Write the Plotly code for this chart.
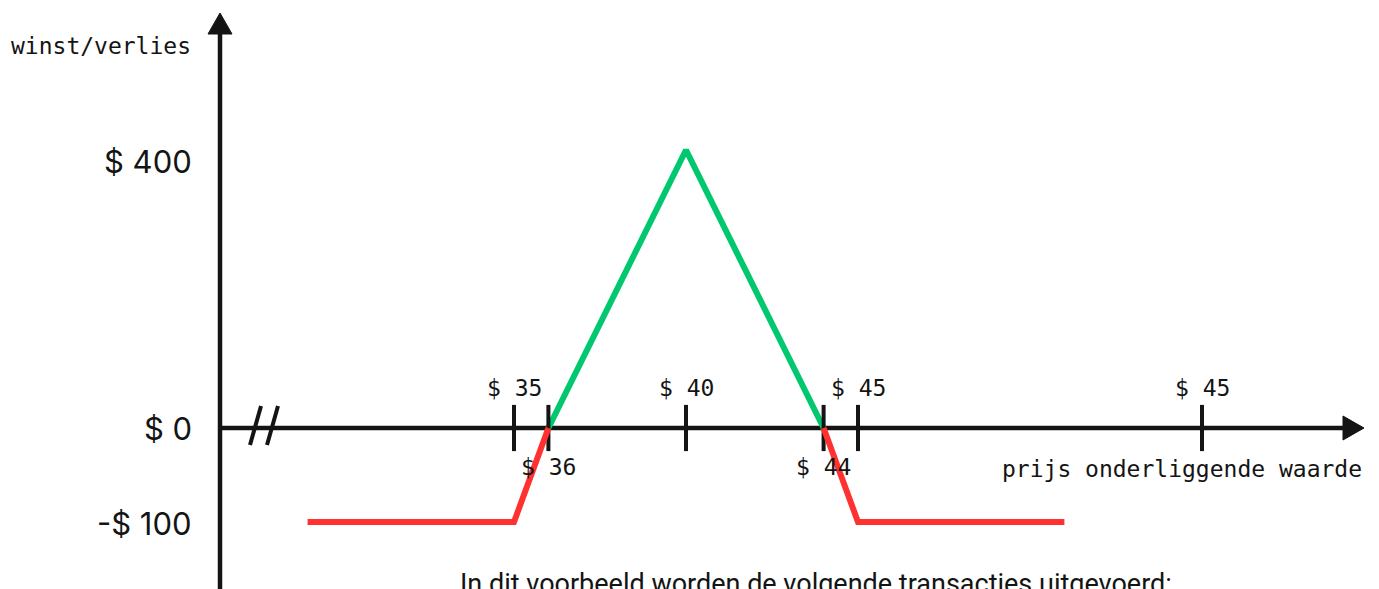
import plotly.graph_objects as go

# Butterfly spread: profit/loss at expiry against the underlying price
price = [29, 35, 36, 40, 44, 45, 51]
profit_loss = [-100, -100, 0, 400, 0, -100, -100]

tick_prices = [35, 36, 40, 44, 45, 55]
tick_labels = ["$ 35", "$ 36", "$ 40", "$ 44", "$ 45", "$ 45"]
break_even = [36, 44]

y_tick_values = [400, 0, -100]
y_tick_labels = ["$ 400", "$ 0", "-$ 100"]

W, H = 1379, 589
INK = "#141414"
RED = "#ff3131"
GREEN = "#00c86e"
MONO = "DejaVu Sans Mono"
SANS = "Inter"


def fx(px):
    return px / W


def fy(py):
    return 1 - py / H


# axis scales (schematic: loss side drawn on its own scale)
x_per_dollar = 34.4
x_lo = 40 - 686 / x_per_dollar
x_hi = x_lo + W / x_per_dollar
zero_py = 428
gain_scale = 278 / 400
loss_scale = 94 / 100

fig = go.Figure()

# profit (green) and loss (red) pieces of the payoff line
fig.add_trace(go.Scatter(x=price[0:3], y=profit_loss[0:3], yaxis="y2", mode="lines",
                         line=dict(color=RED, width=6), hoverinfo="skip"))
fig.add_trace(go.Scatter(x=price[4:7], y=profit_loss[4:7], yaxis="y2", mode="lines",
                         line=dict(color=RED, width=6), hoverinfo="skip"))
fig.add_trace(go.Scatter(x=price[2:5], y=profit_loss[2:5], mode="lines",
                         line=dict(color=GREEN, width=6), hoverinfo="skip"))

# tick marks across the price axis
fig.add_trace(go.Scatter(x=tick_prices, y=[0] * len(tick_prices), mode="markers",
                         marker=dict(symbol="line-ns", size=33,
                                     line=dict(color=INK, width=4)),
                         hoverinfo="skip"))

annotations = []
for p, lab in zip(tick_prices, tick_labels):
    below = p in break_even
    annotations.append(dict(x=p, y=0, xref="x", yref="y", text=lab, showarrow=False,
                            yanchor="middle", yshift=-39 if below else 40,
                            font=dict(family=MONO, size=23, color=INK)))

for v, lab in zip(y_tick_values, y_tick_labels):
    annotations.append(dict(x=fx(194), y=v, xref="paper", yref="y2" if v < 0 else "y",
                            text=lab, showarrow=False, xanchor="right", yanchor="middle",
                            yshift=-11 if v > 0 else (-1 if v < 0 else 0),
                            font=dict(family=SANS, size=31, color=INK)))

annotations.append(dict(x=fx(9), y=fy(46), xref="paper", yref="paper",
                        text="winst/verlies", showarrow=False,
                        xanchor="left", yanchor="middle",
                        font=dict(family=MONO, size=23, color=INK)))
annotations.append(dict(x=fx(1364), y=fy(469), xref="paper", yref="paper",
                        text="prijs onderliggende waarde", showarrow=False,
                        xanchor="right", yanchor="middle",
                        font=dict(family=MONO, size=23, color=INK)))
annotations.append(dict(x=fx(816), y=fy(566), xref="paper", yref="paper",
                        text="In dit voorbeeld worden de volgende transacties uitgevoerd:",
                        showarrow=False, xanchor="center", yanchor="top",
                        font=dict(family="Liberation Sans Narrow, Roboto", size=27, color=INK)))

shapes = [
    # vertical axis
    dict(type="line", xref="paper", yref="paper", x0=fx(220), x1=fx(220),
         y0=-0.05, y1=fy(30), line=dict(color=INK, width=4.5), layer="below"),
    dict(type="path", xref="paper", yref="paper", path=(
        f"M{fx(220)},{fy(13)} L{fx(232)},{fy(34)} L{fx(208)},{fy(34)} Z"),
        fillcolor=INK, line=dict(color=INK, width=1)),
    # horizontal axis at zero
    dict(type="line", xref="paper", yref="y", x0=fx(220), x1=fx(1345), y0=0, y1=0,
         line=dict(color=INK, width=4.5), layer="below"),
    dict(type="path", xref="paper", yref="paper", path=(
        f"M{fx(1364)},{fy(zero_py)} L{fx(1343)},{fy(zero_py - 12)} "
        f"L{fx(1343)},{fy(zero_py + 12)} Z"),
        fillcolor=INK, line=dict(color=INK, width=1)),
    # axis break marks
    dict(type="line", xref="paper", yref="paper", x0=fx(250), y0=fy(445), x1=fx(261), y1=fy(406),
         line=dict(color=INK, width=4)),
    dict(type="line", xref="paper", yref="paper", x0=fx(267), y0=fy(445), x1=fx(278), y1=fy(406),
         line=dict(color=INK, width=4)),
]

fig.update_layout(
    width=W, height=H, autosize=False,
    margin=dict(l=0, r=0, t=0, b=0, pad=0),
    paper_bgcolor="white", plot_bgcolor="white",
    showlegend=False,
    xaxis=dict(range=[x_lo, x_hi], visible=False, fixedrange=True),
    yaxis=dict(range=[-(H - zero_py) / gain_scale, zero_py / gain_scale],
               visible=False, fixedrange=True),
    yaxis2=dict(range=[-(H - zero_py) / loss_scale, zero_py / loss_scale],
                overlaying="y", visible=False, fixedrange=True),
    annotations=annotations,
    shapes=shapes,
)

fig.write_html("out.html")
